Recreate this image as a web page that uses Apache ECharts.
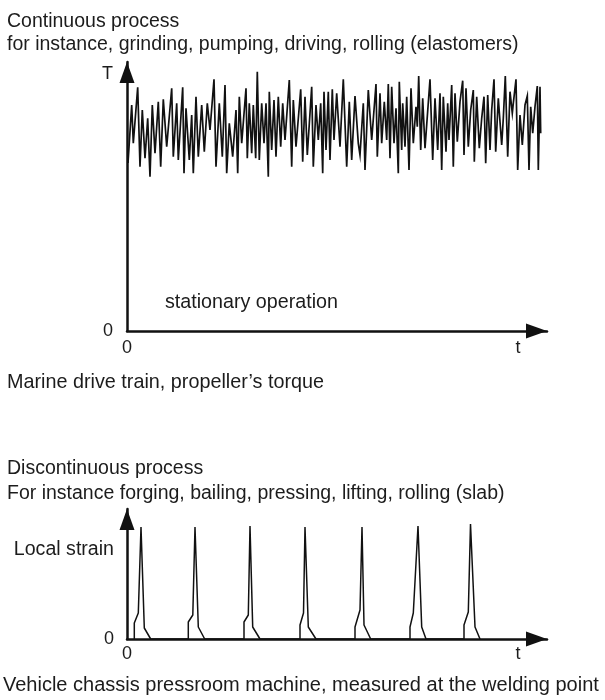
<!DOCTYPE html>
<html>
<head>
<meta charset="utf-8">
<script src="https://cdn.jsdelivr.net/npm/echarts@6/dist/echarts.min.js"></script>
<style>
  html, body { margin: 0; padding: 0; background: #fff; }
  #chart { width: 605px; height: 700px; }
</style>
</head>
<body>
<div id="chart"></div>
<script>
// Continuous process: propeller torque over time (stationary operation)
const torqueTime = [
  1, 4.7, 6.3, 10.7, 13, 15.3, 18, 20.7, 23, 25.3,
  28, 31.3, 33.7, 36.3, 39.7, 44.7, 46.3, 49.7, 51.3, 55.7,
  57, 59, 62.3, 64.7, 66.3, 69, 71.3, 74.7, 77.3, 80.3,
  83, 87, 89, 92.3, 95.3, 98, 99.7, 102.3, 105.7, 109,
  110.7, 112.3, 114.7, 119, 120.3, 122.3, 124.7, 126.3, 128.7, 130.3,
  132.3, 134.7, 137, 139, 141.3, 142.3, 144.7, 147, 149, 151.3,
  153.7, 155.7, 158, 162.3, 164.7, 166.3, 169, 173.7, 175.7, 178,
  180.3, 184.7, 186.3, 189, 191.3, 193.7, 195.7, 197, 199, 201.3,
  203, 205.3, 207, 209.7, 213, 216.3, 219.7, 222.3, 224.7, 228,
  231.3, 233, 236.3, 238, 241.3, 244.7, 249, 250.3, 253, 254.7,
  257.3, 259.7, 261.3, 263, 264.7, 267, 269, 271.3, 272.3, 274.7,
  275.7, 278, 279.7, 282, 284, 286.3, 289, 290.3, 291.7, 293.7,
  295.7, 298, 303, 305.7, 308, 310.7, 313, 314.7, 316.3, 319,
  320.7, 322, 324.7, 326.3, 328, 330.3, 333, 335.7, 337, 339,
  341.3, 343.7, 346.3, 347.3, 349.7, 352.3, 354.7, 357, 358.7, 360.7,
  363, 364.7, 367, 368.7, 371.3, 374.7, 376.3, 378.3, 380.7, 383,
  385.3, 386.3, 389, 390.7, 393, 395.3, 398, 400.3, 402, 403.7,
  405.7, 408, 410.3, 411.3, 413, 413.7
];
const torqueValue = [
  168, 226, 187.7, 243.7, 164.3, 221, 172.7, 212.7, 154.3, 226,
  177.7, 229.3, 164.3, 231.7, 184.3, 242.7, 174.3, 227.7, 171, 243.7,
  157.7, 222.7, 171, 216, 157.7, 234.3, 174.3, 226, 179.3, 227.7,
  201, 251.7, 164.3, 227.7, 174.3, 246, 157.7, 207.7, 174.3, 221,
  157.7, 234.3, 187.7, 242.7, 172.7, 227.7, 177.7, 226, 172.7, 259.3,
  171, 227.7, 187.7, 227.7, 154.3, 239.3, 181, 231, 174.3, 234.3,
  184.3, 227.7, 191, 251, 164.3, 231, 184.3, 241.7, 169.3, 234.3,
  176, 244.3, 164.3, 226, 191, 227.7, 157.7, 239.3, 181, 239.3,
  171, 241.7, 191, 237.7, 184.3, 251.7, 164.3, 229.3, 171, 235,
  187.7, 176, 227.7, 161, 241, 191, 247, 174.3, 237.7, 187.7,
  229.3, 191, 247, 172.7, 244.3, 187.7, 222.7, 157.7, 249.3, 181,
  227.7, 184.3, 234.3, 161, 242.7, 187.7, 224.3, 204.3, 255, 181,
  232.7, 182.7, 251.7, 171, 232.7, 181, 237.7, 161, 234.3, 179.3,
  227.7, 191, 246, 164.3, 237.7, 189.3, 229.3, 250.3, 176, 242.7,
  184.3, 221, 241, 169.3, 234.3, 182.7, 212.7, 234.3, 167.7, 236,
  181, 221, 251.7, 179.3, 232.7, 186, 212.7, 255, 174.3, 239.3,
  217.7, 227.7, 251.7, 161, 216, 186, 226, 235, 161, 224.3,
  197.7, 224.3, 245, 161, 244.3, 197.7
];

// Discontinuous process: local strain pulses at the welding point
const strainTime = [
  7.3, 7.3, 11.3, 14, 17.3, 23.7,
  61.3, 61.3, 65.8, 68, 71.3, 77.7,
  117, 117, 121.3, 123, 125.7, 133,
  173, 173, 176.5, 178, 181.3, 189,
  228, 228, 233, 235, 237, 243.7,
  283, 283, 286.3, 291, 294.7, 299,
  337, 337, 341.3, 343.5, 348, 353
];
const strainValue = [
  0, 16, 26, 112, 11, 0,
  0, 17, 24, 112, 12, 0,
  0, 17, 24, 113, 12, 0,
  0, 14, 26, 112, 12, 0,
  0, 12, 29, 112, 14, 0,
  0, 12, 26, 113, 12, 0,
  0, 14, 27, 115, 12, 0
];

// Axis ranges and labelled positions
const timeMax = 420;
const timeLabelAt = [0, 391];
const timeLabels = ['0', 't'];
const torqueMax = 269;
const torqueLabelAt = [0, 257];
const torqueLabels = ['0', 'T'];
const strainMax = 130;
const strainLabelAt = [0, 89];
const strainLabels = ['0', '{name|Local strain}'];

const FONT = '"Liberation Sans", Arial, Helvetica, sans-serif';
const INK = '#1c1c1c';

const chart = echarts.init(document.getElementById('chart'), null, { renderer: 'canvas' });

function heading(text, left, top, size) {
  return {
    text: text, left: left, top: top, padding: 0,
    textStyle: { fontFamily: FONT, fontSize: size || 19.5, fontWeight: 'normal', color: INK }
  };
}

function arrowLine() {
  return {
    show: true,
    symbol: ['none', 'triangle'],
    symbolSize: [15, 21],
    symbolOffset: [0, -10.5],
    lineStyle: { color: '#111', width: 2.5 }
  };
}

function labelled(values, texts, margin) {
  return {
    customValues: values,
    margin: margin,
    fontFamily: FONT,
    fontSize: 18,
    color: INK,
    formatter: function (v) {
      const i = values.indexOf(v);
      return i >= 0 ? texts[i] : '';
    },
    rich: {
      name: { fontFamily: FONT, fontSize: 19.6, color: INK }
    }
  };
}

function pairs(xs, ys) {
  return xs.map(function (x, i) { return [x, ys[i]]; });
}

chart.setOption({
  animation: false,
  backgroundColor: '#fff',
  title: [
    heading('Continuous process', 7, 12),
    heading('for instance, grinding, pumping, driving, rolling (elastomers)', 7, 35),
    heading('stationary operation', 165, 293, 19.7),
    heading('Marine drive train, propeller\u2019s torque', 7, 373, 19.8),
    heading('Discontinuous process', 7, 459),
    heading('For instance forging, bailing, pressing, lifting, rolling (slab)', 7, 484),
    heading('Vehicle chassis pressroom machine, measured at the welding point', 3, 675, 20)
  ],
  grid: [
    { left: 127, top: 62, width: 420, height: 269 },
    { left: 127, top: 509, width: 420, height: 130 }
  ],
  xAxis: [
    {
      type: 'value', gridIndex: 0, min: 0, max: timeMax,
      axisLine: arrowLine(), axisTick: { show: false }, splitLine: { show: false },
      axisLabel: labelled(timeLabelAt, timeLabels, 8)
    },
    {
      type: 'value', gridIndex: 1, min: 0, max: timeMax,
      axisLine: arrowLine(), axisTick: { show: false }, splitLine: { show: false },
      axisLabel: labelled(timeLabelAt, timeLabels, 6)
    }
  ],
  yAxis: [
    {
      type: 'value', gridIndex: 0, min: 0, max: torqueMax,
      axisLine: arrowLine(), axisTick: { show: false }, splitLine: { show: false },
      axisLabel: labelled(torqueLabelAt, torqueLabels, 14)
    },
    {
      type: 'value', gridIndex: 1, min: 0, max: strainMax,
      axisLine: arrowLine(), axisTick: { show: false }, splitLine: { show: false },
      axisLabel: labelled(strainLabelAt, strainLabels, 13)
    }
  ],
  series: [
    {
      name: 'Torque', type: 'line', xAxisIndex: 0, yAxisIndex: 0,
      data: pairs(torqueTime, torqueValue),
      symbol: 'none', clip: false,
      lineStyle: { color: '#111', width: 1.7, join: 'miter' }
    },
    {
      name: 'Local strain', type: 'line', xAxisIndex: 1, yAxisIndex: 1,
      data: pairs(strainTime, strainValue),
      symbol: 'none', clip: false,
      lineStyle: { color: '#111', width: 1.5 }
    }
  ]
});
</script>
</body>
</html>
